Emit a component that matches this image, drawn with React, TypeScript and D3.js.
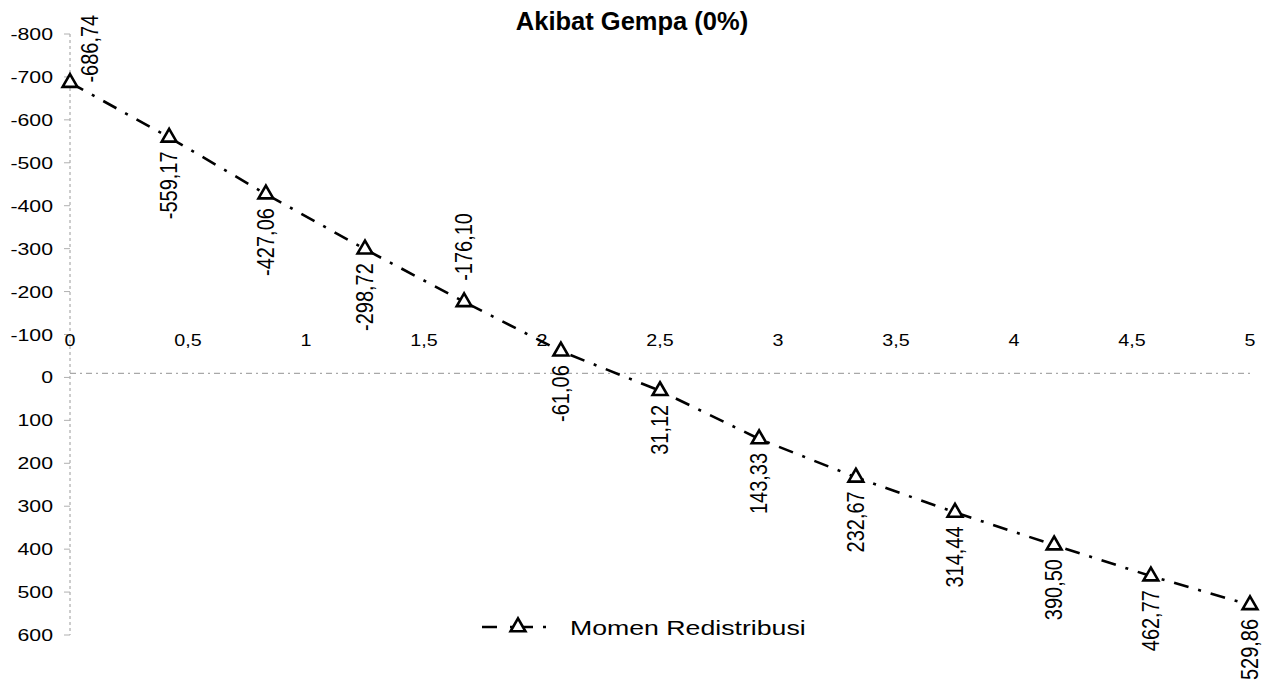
import React from "react";
import * as d3 from "d3";

const chartTitle = "Akibat Gempa (0%)";
const seriesName = "Momen Redistribusi";
const xValues = [0, 0.42, 0.83, 1.25, 1.67, 2.08, 2.5, 2.92, 3.33, 3.75, 4.17, 4.58, 5];
const momenValues = [-686.74, -559.17, -427.06, -298.72, -176.1, -61.06, 31.12, 143.33, 232.67, 314.44, 390.5, 462.77, 529.86];
const xTicks = [0, 0.5, 1, 1.5, 2, 2.5, 3, 3.5, 4, 4.5, 5];
const yTicks = [-800, -700, -600, -500, -400, -300, -200, -100, 0, 100, 200, 300, 400, 500, 600];

const W = 1268;
const H = 680;
const FONT = "'Liberation Sans', Arial, Helvetica, sans-serif";
const fmt = (v: number) => v.toFixed(2).replace(".", ",");
const fmtTick = (v: number) => String(v).replace(".", ",");

export default function App() {
  const x = d3.scaleLinear().domain([0, 5]).range([70, 1250]);
  const y = d3.scaleLinear().domain([-800, 600]).range([34, 635]);
  const pts = xValues.map((xv, i) => ({ xv, v: momenValues[i] }));
  const line = d3
    .line<{ xv: number; v: number }>()
    .x((d) => x(d.xv))
    .y((d) => y(d.v));
  const tri = d3.symbol().type(d3.symbolTriangle).size(95)() as string;
  const y0 = y(0) - 4;

  return (
    <svg
      width={W}
      height={H}
      style={{ position: "absolute", left: 0, top: 0, background: "#fff" }}
      fontFamily={FONT}
    >
      <rect x={0} y={0} width={W} height={H} fill="#fff" />
      {/* title */}
      <text x={632} y={30} textAnchor="middle" fontSize={25.5} fontWeight="bold" fill="#000">
        {chartTitle}
      </text>

      {/* y axis */}
      <line x1={x(0)} x2={x(0)} y1={y(-800)} y2={y(600)} stroke="#9a9a9a" strokeWidth={1} strokeDasharray="3,3" />
      {yTicks.map((t) => (
        <g key={"yt" + t}>
          <line x1={x(0) - 6} x2={x(0)} y1={y(t)} y2={y(t)} stroke="#b0b0b0" strokeWidth={1} />
          <g transform={`translate(53,${y(t) + 6}) scale(1.25,1)`}>
            <text x={0} y={0} textAnchor="end" fontSize={17} fill="#000">
              {fmtTick(t)}
            </text>
          </g>
        </g>
      ))}

      {/* x axis at zero */}
      <line x1={x(0)} x2={x(5)} y1={y0} y2={y0} stroke="#a8a8a8" strokeWidth={1.2} strokeDasharray="6,4,2,4" />
      {xTicks.map((t) => (
        <g key={"xt" + t} transform={`translate(${x(t)},${y0 - 27}) scale(1.16,1)`}>
          <text x={0} y={0} textAnchor="middle" fontSize={17} fill="#000">
            {fmtTick(t)}
          </text>
        </g>
      ))}

      {/* series line */}
      <path
        d={line(pts) || ""}
        fill="none"
        stroke="#000"
        strokeWidth={2.6}
        strokeDasharray="15,10,3,10"
      />
      {pts.map((p, i) => (
        <path
          key={"m" + i}
          d={tri}
          transform={`translate(${x(p.xv)},${y(p.v)})`}
          fill="#fff"
          stroke="#000"
          strokeWidth={2.6}
        />
      ))}

      {/* data labels */}
      {pts.map((p, i) => {
        const px = x(p.xv);
        const py = y(p.v);
        let tx = px;
        let ty = py + 14;
        let anchor = "end";
        if (i === 0) {
          tx = px + 20;
          ty = py;
          anchor = "start";
        } else if (i === 4) {
          ty = py - 21;
          anchor = "start";
        }
        return (
          <g key={"l" + i} transform={`translate(${tx},${ty}) rotate(-90) scale(1,1.2)`}>
            <text x={0} y={0} textAnchor={anchor} dominantBaseline="central" fontSize={20} fill="#000">
              {fmt(p.v)}
            </text>
          </g>
        );
      })}

      {/* legend */}
      <line x1={482} x2={560} y1={627} y2={627} stroke="#000" strokeWidth={2.6} strokeDasharray="15,13,3,0,0,10,10,10,3" />
      <path d={tri} transform="translate(518,627)" fill="#fff" stroke="#000" strokeWidth={2.6} />
      <g transform="translate(570,635) scale(1.27,1)">
        <text x={0} y={0} fontSize={21} fill="#000">
          {seriesName}
        </text>
      </g>
    </svg>
  );
}
